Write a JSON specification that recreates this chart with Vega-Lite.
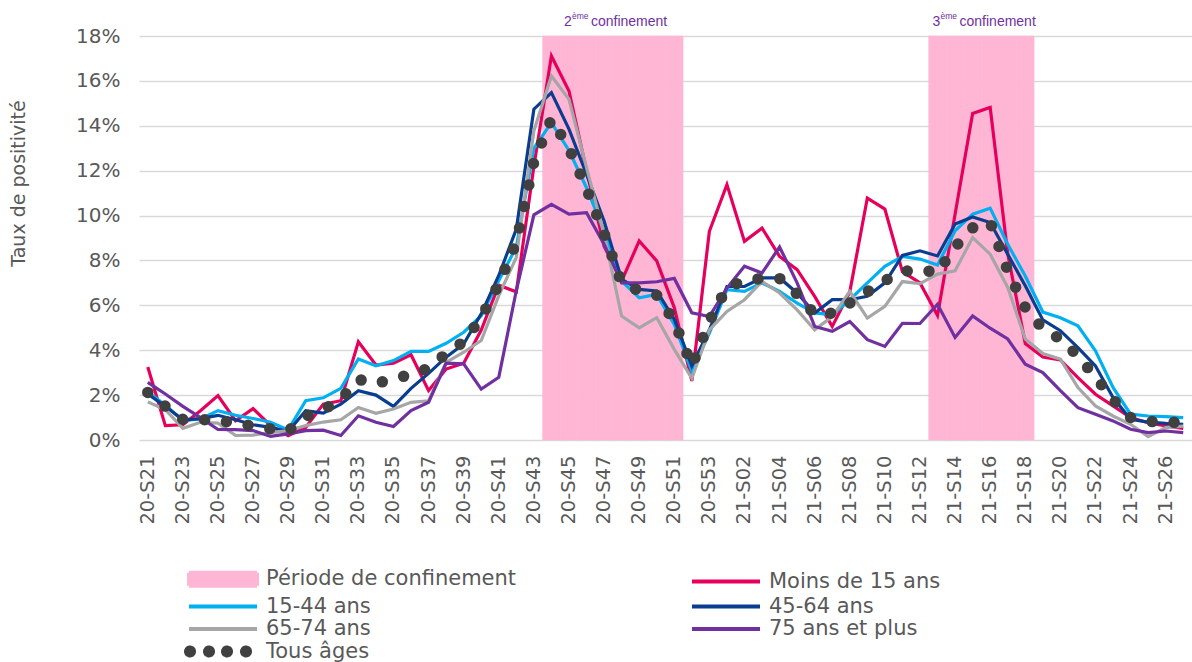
{
  "$schema": "https://vega.github.io/schema/vega-lite/v6.json",
  "width": 1053,
  "height": 404,
  "autosize": {"type": "none"},
  "padding": {"left": 139, "top": 36, "right": 0, "bottom": 222},
  "background": "white",
  "config": {"view": {"stroke": null}, "font": "DejaVu Sans"},
  "datasets": {
    "weeks": [
      {"w":"20-S21","Moins de 15 ans":3.25,"15-44 ans":2.15,"45-64 ans":2.05,"65-74 ans":1.7,"75 ans et plus":2.57,"Tous âges":2.12},
      {"w":"20-S22","Moins de 15 ans":0.64,"15-44 ans":1.55,"45-64 ans":1.5,"65-74 ans":1.35,"75 ans et plus":2.05,"Tous âges":1.5},
      {"w":"20-S23","Moins de 15 ans":0.68,"15-44 ans":0.86,"45-64 ans":0.9,"65-74 ans":0.52,"75 ans et plus":1.5,"Tous âges":0.92},
      {"w":"20-S24","Moins de 15 ans":1.3,"15-44 ans":0.94,"45-64 ans":0.95,"65-74 ans":0.79,"75 ans et plus":1.0,"Tous âges":0.9},
      {"w":"20-S25","Moins de 15 ans":1.98,"15-44 ans":1.31,"45-64 ans":1.1,"65-74 ans":0.75,"75 ans et plus":0.47,"Tous âges":0.9},
      {"w":"20-S26","Moins de 15 ans":0.86,"15-44 ans":1.1,"45-64 ans":0.9,"65-74 ans":0.2,"75 ans et plus":0.46,"Tous âges":0.72},
      {"w":"20-S27","Moins de 15 ans":1.4,"15-44 ans":0.96,"45-64 ans":0.68,"65-74 ans":0.22,"75 ans et plus":0.42,"Tous âges":0.63},
      {"w":"20-S28","Moins de 15 ans":0.64,"15-44 ans":0.79,"45-64 ans":0.56,"65-74 ans":0.33,"75 ans et plus":0.16,"Tous âges":0.5},
      {"w":"20-S29","Moins de 15 ans":0.19,"15-44 ans":0.45,"45-64 ans":0.38,"65-74 ans":0.42,"75 ans et plus":0.27,"Tous âges":0.4},
      {"w":"20-S30","Moins de 15 ans":0.56,"15-44 ans":1.75,"45-64 ans":1.3,"65-74 ans":0.64,"75 ans et plus":0.42,"Tous âges":1.05},
      {"w":"20-S31","Moins de 15 ans":1.6,"15-44 ans":1.88,"45-64 ans":1.2,"65-74 ans":0.8,"75 ans et plus":0.44,"Tous âges":1.35},
      {"w":"20-S32","Moins de 15 ans":1.75,"15-44 ans":2.3,"45-64 ans":1.6,"65-74 ans":0.9,"75 ans et plus":0.2,"Tous âges":1.8},
      {"w":"20-S33","Moins de 15 ans":4.38,"15-44 ans":3.61,"45-64 ans":2.2,"65-74 ans":1.45,"75 ans et plus":1.08,"Tous âges":2.7},
      {"w":"20-S34","Moins de 15 ans":3.34,"15-44 ans":3.31,"45-64 ans":2.0,"65-74 ans":1.19,"75 ans et plus":0.79,"Tous âges":2.5},
      {"w":"20-S35","Moins de 15 ans":3.42,"15-44 ans":3.54,"45-64 ans":1.5,"65-74 ans":1.38,"75 ans et plus":0.6,"Tous âges":2.75},
      {"w":"20-S36","Moins de 15 ans":3.8,"15-44 ans":3.95,"45-64 ans":2.3,"65-74 ans":1.68,"75 ans et plus":1.31,"Tous âges":2.9},
      {"w":"20-S37","Moins de 15 ans":2.2,"15-44 ans":3.95,"45-64 ans":2.97,"65-74 ans":1.75,"75 ans et plus":1.68,"Tous âges":3.2},
      {"w":"20-S38","Moins de 15 ans":3.16,"15-44 ans":4.31,"45-64 ans":3.69,"65-74 ans":3.46,"75 ans et plus":3.42,"Tous âges":3.85},
      {"w":"20-S39","Moins de 15 ans":3.42,"15-44 ans":4.8,"45-64 ans":4.28,"65-74 ans":3.91,"75 ans et plus":3.39,"Tous âges":4.38},
      {"w":"20-S40","Moins de 15 ans":4.9,"15-44 ans":5.54,"45-64 ans":5.62,"65-74 ans":4.43,"75 ans et plus":2.27,"Tous âges":5.45},
      {"w":"20-S41","Moins de 15 ans":6.9,"15-44 ans":7.1,"45-64 ans":7.33,"65-74 ans":6.43,"75 ans et plus":2.79,"Tous âges":6.95},
      {"w":"20-S42","Moins de 15 ans":6.6,"15-44 ans":8.6,"45-64 ans":9.4,"65-74 ans":8.14,"75 ans et plus":6.66,"Tous âges":8.8},
      {"w":"20-S43","Moins de 15 ans":12.2,"15-44 ans":13.0,"45-64 ans":14.74,"65-74 ans":13.77,"75 ans et plus":10.03,"Tous âges":12.4},
      {"w":"20-S44","Moins de 15 ans":17.11,"15-44 ans":14.14,"45-64 ans":15.48,"65-74 ans":16.22,"75 ans et plus":10.5,"Tous âges":14.3},
      {"w":"20-S45","Moins de 15 ans":15.55,"15-44 ans":12.9,"45-64 ans":13.85,"65-74 ans":15.18,"75 ans et plus":10.06,"Tous âges":13.0},
      {"w":"20-S46","Moins de 15 ans":12.0,"15-44 ans":11.24,"45-64 ans":11.84,"65-74 ans":12.14,"75 ans et plus":10.13,"Tous âges":11.2},
      {"w":"20-S47","Moins de 15 ans":8.64,"15-44 ans":9.31,"45-64 ans":9.76,"65-74 ans":9.17,"75 ans et plus":8.72,"Tous âges":9.2},
      {"w":"20-S48","Moins de 15 ans":7.08,"15-44 ans":7.08,"45-64 ans":7.16,"65-74 ans":5.52,"75 ans et plus":7.0,"Tous âges":7.0},
      {"w":"20-S49","Moins de 15 ans":8.87,"15-44 ans":6.34,"45-64 ans":6.71,"65-74 ans":5.0,"75 ans et plus":7.0,"Tous âges":6.65},
      {"w":"20-S50","Moins de 15 ans":7.98,"15-44 ans":6.49,"45-64 ans":6.64,"65-74 ans":5.45,"75 ans et plus":7.05,"Tous âges":6.45},
      {"w":"20-S51","Moins de 15 ans":5.9,"15-44 ans":5.15,"45-64 ans":5.38,"65-74 ans":4.04,"75 ans et plus":7.2,"Tous âges":5.3},
      {"w":"20-S52","Moins de 15 ans":2.63,"15-44 ans":3.07,"45-64 ans":3.3,"65-74 ans":2.75,"75 ans et plus":5.67,"Tous âges":3.3},
      {"w":"20-S53","Moins de 15 ans":9.3,"15-44 ans":4.76,"45-64 ans":4.91,"65-74 ans":4.91,"75 ans et plus":5.5,"Tous âges":5.3},
      {"w":"21-S01","Moins de 15 ans":11.38,"15-44 ans":6.7,"45-64 ans":6.84,"65-74 ans":5.73,"75 ans et plus":6.77,"Tous âges":6.8},
      {"w":"21-S02","Moins de 15 ans":8.85,"15-44 ans":6.62,"45-64 ans":6.84,"65-74 ans":6.25,"75 ans et plus":7.74,"Tous âges":7.1},
      {"w":"21-S03","Moins de 15 ans":9.44,"15-44 ans":7.0,"45-64 ans":7.22,"65-74 ans":7.07,"75 ans et plus":7.44,"Tous âges":7.2},
      {"w":"21-S04","Moins de 15 ans":8.18,"15-44 ans":6.62,"45-64 ans":7.22,"65-74 ans":6.55,"75 ans et plus":8.6,"Tous âges":7.2},
      {"w":"21-S05","Moins de 15 ans":7.59,"15-44 ans":6.1,"45-64 ans":6.55,"65-74 ans":5.8,"75 ans et plus":7.0,"Tous âges":6.5},
      {"w":"21-S06","Moins de 15 ans":6.4,"15-44 ans":5.66,"45-64 ans":5.66,"65-74 ans":4.91,"75 ans et plus":5.06,"Tous âges":5.6},
      {"w":"21-S07","Moins de 15 ans":5.06,"15-44 ans":5.58,"45-64 ans":6.25,"65-74 ans":5.5,"75 ans et plus":4.84,"Tous âges":5.65},
      {"w":"21-S08","Moins de 15 ans":6.6,"15-44 ans":6.25,"45-64 ans":6.25,"65-74 ans":6.62,"75 ans et plus":5.28,"Tous âges":6.1},
      {"w":"21-S09","Moins de 15 ans":10.78,"15-44 ans":7.0,"45-64 ans":6.4,"65-74 ans":5.43,"75 ans et plus":4.47,"Tous âges":6.6},
      {"w":"21-S10","Moins de 15 ans":10.29,"15-44 ans":7.74,"45-64 ans":7.0,"65-74 ans":5.95,"75 ans et plus":4.17,"Tous âges":7.1},
      {"w":"21-S11","Moins de 15 ans":7.5,"15-44 ans":8.18,"45-64 ans":8.22,"65-74 ans":7.06,"75 ans et plus":5.2,"Tous âges":7.5},
      {"w":"21-S12","Moins de 15 ans":7.0,"15-44 ans":8.06,"45-64 ans":8.43,"65-74 ans":6.97,"75 ans et plus":5.19,"Tous âges":7.6},
      {"w":"21-S13","Moins de 15 ans":5.55,"15-44 ans":7.8,"45-64 ans":8.2,"65-74 ans":7.39,"75 ans et plus":6.05,"Tous âges":7.45},
      {"w":"21-S14","Moins de 15 ans":10.06,"15-44 ans":9.32,"45-64 ans":9.62,"65-74 ans":7.54,"75 ans et plus":4.57,"Tous âges":8.6},
      {"w":"21-S15","Moins de 15 ans":14.55,"15-44 ans":10.06,"45-64 ans":9.94,"65-74 ans":9.02,"75 ans et plus":5.53,"Tous âges":9.45},
      {"w":"21-S16","Moins de 15 ans":14.82,"15-44 ans":10.33,"45-64 ans":9.69,"65-74 ans":8.28,"75 ans et plus":4.98,"Tous âges":9.7},
      {"w":"21-S17","Moins de 15 ans":8.3,"15-44 ans":8.72,"45-64 ans":8.28,"65-74 ans":6.8,"75 ans et plus":4.5,"Tous âges":7.55},
      {"w":"21-S18","Moins de 15 ans":4.3,"15-44 ans":7.31,"45-64 ans":6.87,"65-74 ans":4.5,"75 ans et plus":3.38,"Tous âges":5.9},
      {"w":"21-S19","Moins de 15 ans":3.7,"15-44 ans":5.7,"45-64 ans":5.35,"65-74 ans":3.85,"75 ans et plus":3.0,"Tous âges":4.95},
      {"w":"21-S20","Moins de 15 ans":3.57,"15-44 ans":5.45,"45-64 ans":4.87,"65-74 ans":3.6,"75 ans et plus":2.2,"Tous âges":4.5},
      {"w":"21-S21","Moins de 15 ans":2.78,"15-44 ans":5.09,"45-64 ans":4.12,"65-74 ans":2.34,"75 ans et plus":1.44,"Tous âges":3.75},
      {"w":"21-S22","Moins de 15 ans":2.04,"15-44 ans":3.97,"45-64 ans":3.3,"65-74 ans":1.52,"75 ans et plus":1.15,"Tous âges":2.8},
      {"w":"21-S23","Moins de 15 ans":1.52,"15-44 ans":2.34,"45-64 ans":1.89,"65-74 ans":1.07,"75 ans et plus":0.85,"Tous âges":1.8},
      {"w":"21-S24","Moins de 15 ans":1.0,"15-44 ans":1.15,"45-64 ans":0.92,"65-74 ans":0.7,"75 ans et plus":0.48,"Tous âges":1.0},
      {"w":"21-S25","Moins de 15 ans":0.77,"15-44 ans":1.07,"45-64 ans":0.8,"65-74 ans":0.15,"75 ans et plus":0.33,"Tous âges":0.82},
      {"w":"21-S26","Moins de 15 ans":0.63,"15-44 ans":1.04,"45-64 ans":0.74,"65-74 ans":0.55,"75 ans et plus":0.4,"Tous âges":0.82},
      {"w":"21-S27","Moins de 15 ans":0.52,"15-44 ans":1.0,"45-64 ans":0.7,"65-74 ans":0.62,"75 ans et plus":0.33,"Tous âges":0.75}
    ],
    "conf": [
      {"w":"20-S44"},{"w":"20-S45"},{"w":"20-S46"},{"w":"20-S47"},{"w":"20-S48"},{"w":"20-S49"},{"w":"20-S50"},{"w":"20-S51"},
      {"w":"21-S13"},{"w":"21-S14"},{"w":"21-S15"},{"w":"21-S16"},{"w":"21-S17"},{"w":"21-S18"}
    ],
    "notes": [
      {"w":"20-S45","n":"2"},
      {"w":"21-S13","n":"3"}
    ]
  },
  "encoding": {
    "x": {
      "field": "w",
      "type": "ordinal",
      "scale": {"type": "band", "paddingInner": 0, "paddingOuter": 0},
      "axis": {
        "title": null,
        "values": ["20-S21","20-S23","20-S25","20-S27","20-S29","20-S31","20-S33","20-S35","20-S37","20-S39","20-S41","20-S43","20-S45","20-S47","20-S49","20-S51","20-S53","21-S02","21-S04","21-S06","21-S08","21-S10","21-S12","21-S14","21-S16","21-S18","21-S20","21-S22","21-S24","21-S26"],
        "labelAngle": -90,
        "labelAlign": "right",
        "labelBaseline": "middle",
        "labelFont": "DejaVu Sans",
        "labelFontSize": 19.5,
        "labelColor": "#595959",
        "labelPadding": 15,
        "labelOverlap": false,
        "ticks": false,
        "tickSize": 0,
        "domain": false,
        "grid": false
      }
    }
  },
  "layer": [
    {
      "data": {"name": "conf"},
      "mark": {"type": "rect", "stroke": "#FFB6D5", "strokeWidth": 0.6},
      "encoding": {
        "y": {"datum": 0, "type": "quantitative", "scale": {"domain": [0, 18], "nice": false},
          "axis": {"title": "Taux de positivité", "values": [0,2,4,6,8,10,12,14,16,18], "labelExpr": "datum.value + '%'",
            "labelFont": "DejaVu Sans", "labelFontSize": 20, "labelColor": "#595959", "labelPadding": 19,
            "ticks": false, "tickSize": 0, "domain": false, "grid": true, "gridColor": "#D9D9D9", "gridWidth": 1.3,
            "titleFont": "DejaVu Sans", "titleFontSize": 19, "titleColor": "#595959", "titleFontWeight": "normal",
            "titleAngle": -90, "titleX": -121, "titleY": 147, "titleAlign": "center", "titleBaseline": "middle"}},
        "y2": {"datum": 18},
        "color": {"datum": "Période de confinement", "type": "nominal"}
      }
    },
    {
      "data": {"name": "weeks"},
      "transform": [{"fold": ["Moins de 15 ans","15-44 ans","45-64 ans","65-74 ans","75 ans et plus"], "as": ["grp","v"]}],
      "mark": {"type": "line", "strokeWidth": 3.2},
      "encoding": {
        "y": {"field": "v", "type": "quantitative", "title": "Taux de positivité"},
        "color": {
          "field": "grp",
          "type": "nominal",
          "scale": {
            "domain": ["Période de confinement","Moins de 15 ans","15-44 ans","45-64 ans","65-74 ans","75 ans et plus","Tous âges"],
            "range": ["#FFB6D5","#E6005C","#00B0F0","#0A3D8F","#A6A6A6","#7030A0","#404040"]
          },
          "legend": {
            "orient": "none",
            "legendX": 72,
            "legendY": 531,
            "direction": "horizontal",
            "columns": 2,
            "title": null,
            "padding": 0,
            "labelFont": "DejaVu Sans",
            "labelFontSize": 21,
            "labelColor": "#595959",
            "labelOffset": 31,
            "labelLimit": 400,
            "symbolSize": 400,
            "symbolStrokeWidth": 4,
            "columnPadding": 167,
            "rowPadding": 0.5,
            "encode": {
              "symbols": {
                "update": {
                  "shape": {"signal": "datum.value === 'Période de confinement' ? 'M-3.4,-0.65H3.4V0.65H-3.4Z' : datum.value === 'Tous âges' ? 'M-3.7,0a0.4,0.4 0 1,0 0.8,0a0.4,0.4 0 1,0 -0.8,0M-1.8,0a0.4,0.4 0 1,0 0.8,0a0.4,0.4 0 1,0 -0.8,0M0,0a0.4,0.4 0 1,0 0.8,0a0.4,0.4 0 1,0 -0.8,0M1.9,0a0.4,0.4 0 1,0 0.8,0a0.4,0.4 0 1,0 -0.8,0' : 'M-3.4,0H3.4'"},
                  "fill": {"signal": "datum.value === 'Période de confinement' ? '#FFB6D5' : datum.value === 'Tous âges' ? '#404040' : 'transparent'"},
                  "stroke": {"signal": "datum.value === 'Moins de 15 ans' ? '#E6005C' : datum.value === '15-44 ans' ? '#00B0F0' : datum.value === '45-64 ans' ? '#0A3D8F' : datum.value === '65-74 ans' ? '#A6A6A6' : datum.value === '75 ans et plus' ? '#7030A0' : 'transparent'"},
                  "strokeWidth": {"value": 4},
                  "strokeDash": {"value": [1, 0]},
                  "size": {"value": 400},
                  "opacity": {"value": 1}
                }
              }
            }
          }
        }
      }
    },
    {
      "data": {"name": "weeks"},
      "mark": {"type": "line", "strokeWidth": 11.5, "strokeDash": [0, 22], "strokeCap": "round"},
      "encoding": {
        "y": {"field": "Tous âges", "type": "quantitative", "title": "Taux de positivité"},
        "color": {"datum": "Tous âges", "type": "nominal"}
      }
    },
    {
      "data": {"name": "notes"},
      "mark": {"type": "text", "align": "left", "baseline": "alphabetic", "dx": -5, "font": "Liberation Sans", "fontSize": 14, "color": "#7030A0"},
      "encoding": {
        "y": {"datum": 18.45, "type": "quantitative"},
        "text": {"field": "n"}
      }
    },
    {
      "data": {"name": "notes"},
      "mark": {"type": "text", "align": "left", "baseline": "alphabetic", "dx": 3, "font": "Liberation Sans", "fontSize": 8.5, "color": "#7030A0", "text": "ème"},
      "encoding": {
        "y": {"datum": 18.75, "type": "quantitative"}
      }
    },
    {
      "data": {"name": "notes"},
      "mark": {"type": "text", "align": "left", "baseline": "alphabetic", "dx": 22, "font": "Liberation Sans", "fontSize": 14, "color": "#7030A0", "text": "confinement"},
      "encoding": {
        "y": {"datum": 18.45, "type": "quantitative"}
      }
    }
  ]
}
